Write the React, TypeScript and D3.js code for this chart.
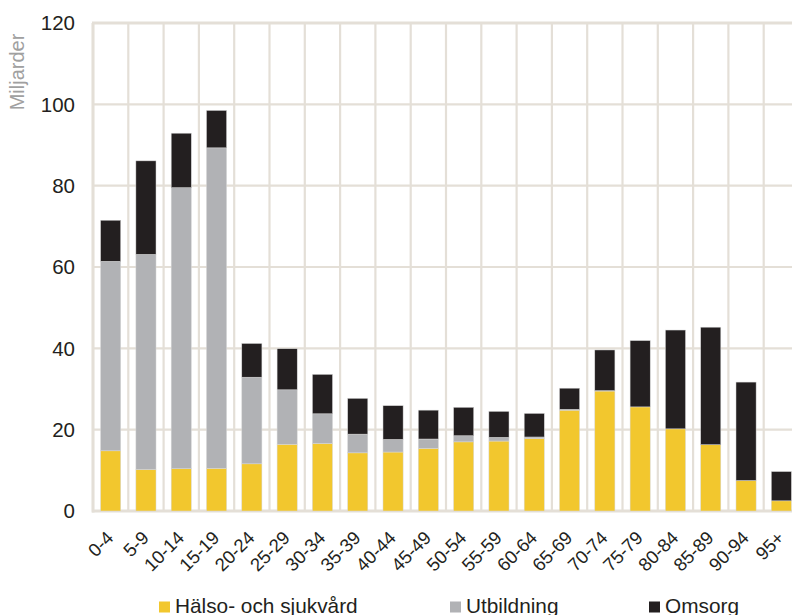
import React from "react";
import * as d3 from "d3";

// Age groups
const categories = [
  "0-4", "5-9", "10-14", "15-19", "20-24", "25-29", "30-34", "35-39", "40-44", "45-49",
  "50-54", "55-59", "60-64", "65-69", "70-74", "75-79", "80-84", "85-89", "90-94", "95+",
];

// Billions SEK per age group
const halso = [14.8, 10.2, 10.4, 10.5, 11.6, 16.4, 16.6, 14.3, 14.5, 15.4, 17.0, 17.2, 17.8, 24.8, 29.5, 25.6, 20.2, 16.3, 7.5, 2.5];
const utbildning = [46.6, 52.9, 69.1, 78.8, 21.3, 13.4, 7.3, 4.6, 3.1, 2.3, 1.5, 0.9, 0.4, 0.2, 0.1, 0, 0, 0, 0, 0];
const omsorg = [10.1, 23.0, 13.4, 9.2, 8.3, 10.1, 9.7, 8.8, 8.3, 7.1, 7.0, 6.4, 5.8, 5.2, 10.0, 16.3, 24.3, 28.9, 24.2, 7.2];

const yTicks = [0, 20, 40, 60, 80, 100, 120];

const seriesKeys = ["Hälso- och sjukvård", "Utbildning", "Omsorg"];
const seriesColors = ["#f2c72e", "#b1b2b5", "#231f20"];

const W = 792;
const H = 615;
const left = 93;
const right = 799;
const top = 23;
const bottom = 511;
const grid = "#e4dfd7";
const font = "'Liberation Sans', Arial, sans-serif";

export default function App() {
  const rows = categories.map((c, i) => ({
    cat: c,
    [seriesKeys[0]]: halso[i],
    [seriesKeys[1]]: utbildning[i],
    [seriesKeys[2]]: omsorg[i],
  }));
  const stacked = d3.stack<any>().keys(seriesKeys)(rows);

  const x = d3.scaleBand<string>().domain(categories).range([left, right]).paddingInner(0.43).paddingOuter(0.215);
  const y = d3.scaleLinear().domain([0, 120]).range([bottom, top]);
  const step = x.step();

  const legendItems = [
    { label: seriesKeys[0], color: seriesColors[0], x: 159 },
    { label: seriesKeys[1], color: seriesColors[1], x: 450 },
    { label: seriesKeys[2], color: seriesColors[2], x: 649 },
  ];

  return (
    <svg width={W} height={H} style={{ position: "absolute", left: 0, top: 0, background: "#fff" }} fontFamily={font}>
      {/* vertical gridlines at category boundaries */}
      {categories.map((c, i) => (
        <line key={"v" + c} x1={left + i * step} x2={left + i * step} y1={top} y2={bottom} stroke={grid} strokeWidth={2.2} />
      ))}
      <line x1={right} x2={right} y1={top} y2={bottom} stroke={grid} strokeWidth={2.2} />
      {/* horizontal gridlines */}
      {yTicks.map((t) => (
        <line key={"h" + t} x1={left - 1} x2={right} y1={y(t)} y2={y(t)} stroke={grid} strokeWidth={t === 0 || t === 120 ? 3 : 2.2} />
      ))}
      <line x1={left} x2={left} y1={top} y2={bottom + 1.5} stroke={grid} strokeWidth={3} />

      {/* stacked bars */}
      {stacked.map((s, si) => (
        <g key={s.key} fill={seriesColors[si]}>
          {s.map((d, i) => {
            const h = y(d[0]) - y(d[1]);
            if (h <= 0) return null;
            return (
              <rect key={i} x={x(categories[i])} y={y(d[1])} width={x.bandwidth()} height={h} stroke="#d8d8d8" strokeWidth={0.5} />
            );
          })}
        </g>
      ))}

      {/* y tick labels */}
      {yTicks.map((t) => (
        <text key={"yl" + t} x={75} y={y(t)} dy="0.36em" textAnchor="end" fontSize={20.5} fill="#231f20">
          {t}
        </text>
      ))}
      <text transform="translate(24,72) rotate(-90)" textAnchor="middle" fontSize={20} fill="#a0a0a0">
        Miljarder
      </text>

      {/* x tick labels */}
      {categories.map((c) => {
        const cx = (x(c) as number) + x.bandwidth() / 2 + 4;
        return (
          <text key={"xl" + c} transform={`translate(${cx},${bottom + 28}) rotate(-45)`} textAnchor="end" fontSize={18.5} fill="#231f20">
            {c}
          </text>
        );
      })}

      {/* legend */}
      {legendItems.map((l) => (
        <g key={l.label}>
          <rect x={l.x} y={601.5} width={11} height={11} fill={l.color} />
          <text x={l.x + 16} y={612.5} fontSize={20.8} fill="#231f20">
            {l.label}
          </text>
        </g>
      ))}
    </svg>
  );
}
